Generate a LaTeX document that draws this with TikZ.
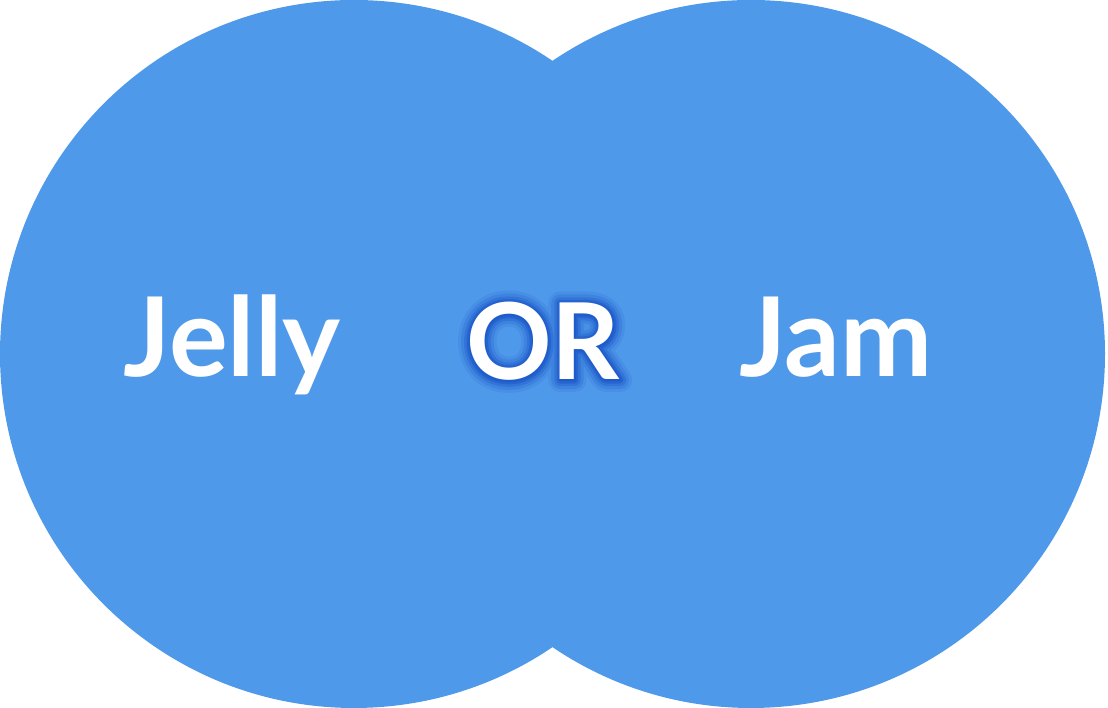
\documentclass[tikz,border=0pt]{standalone}
\usepackage{fontspec}
\setmainfont{Lato}
\definecolor{venn}{HTML}{4F99EA}
\definecolor{glow}{HTML}{1F5CCB}
\newcommand{\strk}[3]{\rlap{\color{#1}\special{pdf:literal 1 Tr #2 w 1 j}#3\special{pdf:literal 0 Tr 1 w}}}
\begin{document}
\begin{tikzpicture}[x=1pt,y=1pt,
  lbl/.style={text=white,inner sep=0pt,anchor=base,font=\fontsize{110}{110}\selectfont\bfseries},
  orlbl/.style={inner sep=0pt,anchor=base,font=\fontsize{106}{106}\selectfont\bfseries}]
\useasboundingbox (0,0) rectangle (1108,708);
\fill[venn] (354,354) circle (354);
\fill[venn] (751,354) circle (354);
\node[lbl] (jelly) at (232,331) {Jelly};
\node[lbl] (jam) at (836,331) {Jam};
\node[orlbl] (or) at (543,328) {\strk{glow!15!venn}{24}{OR}\strk{glow!35!venn}{18}{OR}\strk{glow!60!venn}{12}{OR}\strk{glow!85!venn}{7}{OR}\strk{glow}{3}{OR}\textcolor{white}{OR}};
\end{tikzpicture}
\end{document}
